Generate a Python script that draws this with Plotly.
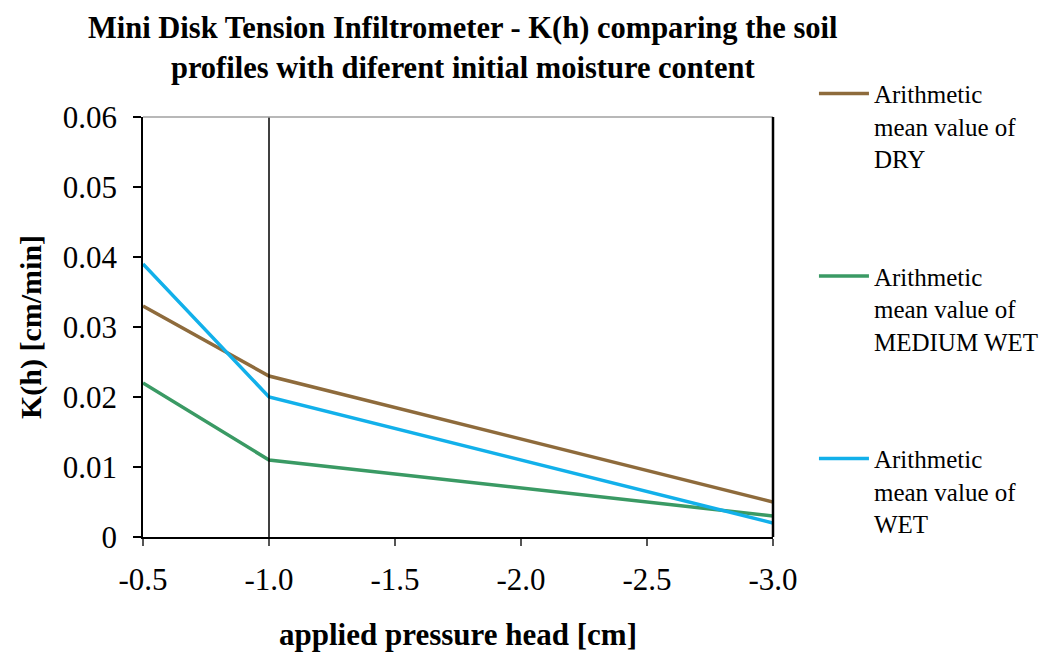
import plotly.graph_objects as go

pressure_head = [-0.5, -1.0, -3.0]
k_dry = [0.033, 0.023, 0.005]
k_medium_wet = [0.022, 0.011, 0.003]
k_wet = [0.039, 0.020, 0.002]
series_names = [
    "Arithmetic<br>mean value of<br>DRY",
    "Arithmetic<br>mean value of<br>MEDIUM WET",
    "Arithmetic<br>mean value of<br>WET",
]
x_tick_vals = [-0.5, -1.0, -1.5, -2.0, -2.5, -3.0]
x_tick_text = ["-0.5", "-1.0", "-1.5", "-2.0", "-2.5", "-3.0"]
y_tick_vals = [0, 0.01, 0.02, 0.03, 0.04, 0.05, 0.06]
y_tick_text = ["0", "0.01", "0.02", "0.03", "0.04", "0.05", "0.06"]
ref_lines_x = [-1.0]

colors = ["#8E6B3C", "#3A9A64", "#12B0EA"]
FONT = "Times New Roman, Liberation Serif, serif"

fig = go.Figure()
for i, (name, vals) in enumerate(zip(series_names, [k_dry, k_medium_wet, k_wet])):
    fig.add_trace(go.Scatter(
        x=pressure_head, y=vals, mode="lines", name=name,
        legendgroup=f"g{i}",
        line=dict(color=colors[i], width=3.5),
    ))

for xv in ref_lines_x:
    fig.add_shape(type="line", xref="x", yref="paper", x0=xv, x1=xv, y0=0, y1=1,
                  line=dict(color="black", width=1.5))
# top border (gray) and right border (black)
fig.add_shape(type="line", xref="paper", yref="paper", x0=0, x1=1, y0=1, y1=1,
              line=dict(color="#A0A0A0", width=1.5))
fig.add_shape(type="line", xref="paper", yref="paper", x0=1, x1=1, y0=0, y1=1,
              line=dict(color="black", width=2.5))

fig.add_annotation(
    text="<b>Mini Disk Tension Infiltrometer - K(h) comparing the soil<br>profiles with diferent initial moisture content</b>",
    xref="paper", yref="paper", x=(465 - 143) / 633, y=(537 - 48) / 420,
    xanchor="center", yanchor="middle", showarrow=False,
    font=dict(family=FONT, size=30.5, color="black"),
)

fig.update_layout(
    width=1056, height=662,
    margin=dict(l=143, r=280, t=117, b=125),
    paper_bgcolor="white", plot_bgcolor="white",
    font=dict(family=FONT, color="black"),
    xaxis=dict(
        range=[-0.5, -3.0], tickvals=x_tick_vals, ticktext=x_tick_text,
        showgrid=False, zeroline=False, showline=True, linecolor="black", linewidth=1.5,
        ticks="outside", ticklen=7, tickcolor="#555", tickwidth=1.5,
        tickfont=dict(family=FONT, size=31), ticklabelstandoff=7,
        title=dict(text="<b>applied pressure head [cm]</b>", font=dict(family=FONT, size=31), standoff=27),
    ),
    yaxis=dict(
        range=[0, 0.06], tickvals=y_tick_vals, ticktext=y_tick_text,
        showgrid=False, zeroline=False, showline=True, linecolor="black", linewidth=1.5,
        ticks="outside", ticklen=8, tickcolor="black", tickwidth=1.5,
        tickfont=dict(family=FONT, size=31), ticklabelstandoff=10,
        title=dict(text="<b>K(h) [cm/min]</b>", font=dict(family=FONT, size=30), standoff=12),
    ),
    legend=dict(
        x=1.065, xanchor="left", y=1.11, yanchor="top",
        font=dict(family=FONT, size=25),
        tracegroupgap=82, valign="top", bgcolor="rgba(0,0,0,0)",
        itemwidth=50, maxheight=620,
    ),
    showlegend=True,
)

fig.write_html("out.html")
